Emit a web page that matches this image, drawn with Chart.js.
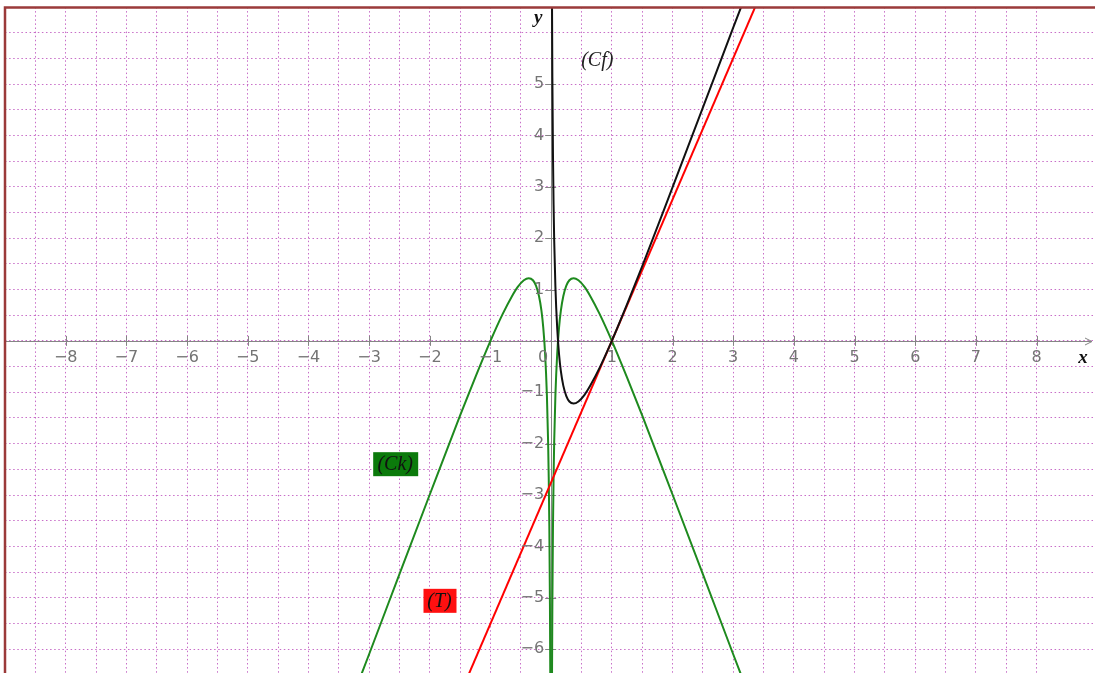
<!DOCTYPE html>
<html>
<head>
<meta charset="utf-8">
<title>(Cf), (Ck), (T)</title>
<script src="https://cdn.jsdelivr.net/npm/chart.js@4.4.1/dist/chart.umd.min.js"></script>
<style>
    html, body { margin: 0; padding: 0; background: #fff; }
    #wrap { width: 1095px; height: 673px; }
</style>
</head>
<body>
<div id="wrap"><canvas id="graph" width="1095" height="673"></canvas></div>
<script>
// (Cf) - black curve, x > 0
const cfX = [0.012, 0.014, 0.02, 0.03, 0.04, 0.05, 0.07, 0.1, 0.13, 0.16, 0.2, 0.25, 0.3, 0.37, 0.45, 0.55, 0.65, 0.8, 1, 1.25, 1.5, 2, 2.5, 3, 3.25, 3.5];
const cfY = [7.27, 6.59, 5.12, 3.62, 2.65, 1.97, 1.06, 0.24, -0.26, -0.59, -0.87, -1.075, -1.18, -1.22, -1.18, -1.05, -0.86, -0.52, 0, 0.71, 1.45, 2.99, 4.54, 6.10, 6.87, 7.65];

// (Ck) - green curve, one branch on each side of the y axis
const ckLeftX = [-3.5, -3.25, -3, -2.5, -2, -1.5, -1.25, -1, -0.8, -0.65, -0.55, -0.45, -0.37, -0.3, -0.25, -0.2, -0.16, -0.13, -0.1, -0.07, -0.05, -0.04, -0.03, -0.02, -0.014, -0.012];
const ckLeftY = [-7.65, -6.87, -6.10, -4.54, -2.99, -1.45, -0.71, 0, 0.52, 0.86, 1.05, 1.18, 1.22, 1.18, 1.075, 0.87, 0.59, 0.26, -0.24, -1.06, -1.97, -2.65, -3.62, -5.12, -6.59, -7.27];
const ckRightX = [0.012, 0.014, 0.02, 0.03, 0.04, 0.05, 0.07, 0.1, 0.13, 0.16, 0.2, 0.25, 0.3, 0.37, 0.45, 0.55, 0.65, 0.8, 1, 1.25, 1.5, 2, 2.5, 3, 3.25, 3.5];
const ckRightY = [-7.27, -6.59, -5.12, -3.62, -2.65, -1.97, -1.06, -0.24, 0.26, 0.59, 0.87, 1.075, 1.18, 1.22, 1.18, 1.05, 0.86, 0.52, 0, -0.71, -1.45, -2.99, -4.54, -6.10, -6.87, -7.65];

// (T) - red tangent line at x = 1
const tX = [-1.5, 3.5];
const tY = [-6.88, 6.88];

// graduations on the axes
const xTickLabels = [-8, -7, -6, -5, -4, -3, -2, -1, 1, 2, 3, 4, 5, 6, 7, 8];
const yTickLabels = [-6, -5, -4, -3, -2, -1, 1, 2, 3, 4, 5];

function toPoints(xs, ys) {
    return xs.map((x, i) => ({ x: x, y: ys[i] }));
}

const gridColor = 'rgba(190, 85, 190, 0.85)';
const axisColor = '#858585';
const labelColor = '#747474';

const axesPlugin = {
    id: 'repereAxes',
    beforeDatasetsDraw(chart) {
        const { ctx, chartArea, scales: { x, y } } = chart;
        const x0 = x.getPixelForValue(0);
        const y0 = y.getPixelForValue(0);
        ctx.save();
        ctx.strokeStyle = axisColor;
        ctx.lineWidth = 1;
        ctx.beginPath();
        // axe des abscisses
        ctx.moveTo(chartArea.left, Math.round(y0) + 0.5);
        ctx.lineTo(chartArea.right - 3, Math.round(y0) + 0.5);
        // flèche
        ctx.moveTo(chartArea.right - 10, Math.round(y0) - 3);
        ctx.lineTo(chartArea.right - 3, Math.round(y0) + 0.5);
        ctx.lineTo(chartArea.right - 10, Math.round(y0) + 4);
        // axe des ordonnées
        ctx.moveTo(Math.round(x0) + 0.5, chartArea.top);
        ctx.lineTo(Math.round(x0) + 0.5, chartArea.bottom);
        xTickLabels.forEach(v => {
            const px = Math.round(x.getPixelForValue(v)) + 0.5;
            ctx.moveTo(px, y0 - 5);
            ctx.lineTo(px, y0 + 5);
        });
        yTickLabels.forEach(v => {
            const py = Math.round(y.getPixelForValue(v)) + 0.5;
            ctx.moveTo(x0 - 6, py);
            ctx.lineTo(x0 + 5, py);
        });
        ctx.stroke();
        ctx.restore();
    },
    afterDatasetsDraw(chart) {
        const { ctx, chartArea, scales: { x, y } } = chart;
        const x0 = x.getPixelForValue(0);
        const y0 = y.getPixelForValue(0);
        ctx.save();

        // graduations
        ctx.fillStyle = labelColor;
        ctx.font = '16px "DejaVu Sans"';
        ctx.textBaseline = 'middle';
        ctx.textAlign = 'center';
        xTickLabels.forEach(v => {
            const txt = v < 0 ? '\u2212' + Math.abs(v) : String(v);
            ctx.fillText(txt, x.getPixelForValue(v), y0 + 17);
        });
        ctx.textAlign = 'right';
        yTickLabels.forEach(v => {
            const txt = v < 0 ? '\u2212' + Math.abs(v) : String(v);
            ctx.fillText(txt, x0 - 7, y.getPixelForValue(v));
        });
        ctx.fillText('0', x0 - 3, y0 + 17);

        // noms des axes
        ctx.fillStyle = '#111';
        ctx.font = 'italic bold 19px "Liberation Serif"';
        ctx.textAlign = 'center';
        ctx.fillText('x', chartArea.right - 12, y0 + 17);
        ctx.fillText('y', x0 - 13, chartArea.top + 11);

        // étiquettes des courbes
        ctx.font = 'italic 20px "Liberation Serif"';
        ctx.fillStyle = '#222';
        ctx.fillText('(Cf)', x.getPixelForValue(0.76), y.getPixelForValue(5.45));

        let cx = x.getPixelForValue(-2.57), cy = y.getPixelForValue(-2.4);
        ctx.fillStyle = '#0b7a0b';
        ctx.fillRect(cx - 22, cy - 12, 45, 24);
        ctx.fillStyle = '#111';
        ctx.fillText('(Ck)', cx, cy + 1);

        cx = x.getPixelForValue(-1.84);
        cy = y.getPixelForValue(-5.06);
        ctx.fillStyle = '#ff1010';
        ctx.fillRect(cx - 16, cy - 12, 33, 24);
        ctx.fillStyle = '#111';
        ctx.fillText('(T)', cx, cy + 1);

        // cadre
        ctx.strokeStyle = '#9b3a3a';
        ctx.lineWidth = 2.5;
        ctx.beginPath();
        ctx.moveTo(chartArea.left, chartArea.bottom);
        ctx.lineTo(chartArea.left, chartArea.top + 0.5);
        ctx.lineTo(chartArea.right, chartArea.top + 0.5);
        ctx.stroke();
        ctx.restore();
    }
};

const keepHalfUnits = s => {
    s.ticks = s.ticks.filter(t => Math.abs(t.value * 2 - Math.round(t.value * 2)) < 1e-6);
};

new Chart(document.getElementById('graph').getContext('2d'), {
    type: 'scatter',
    data: {
        datasets: [
            {
                label: '(Cf)',
                data: toPoints(cfX, cfY),
                showLine: true,
                borderColor: '#111111',
                borderWidth: 2,
                pointRadius: 0,
                cubicInterpolationMode: 'monotone'
            },
            {
                label: '(T)',
                data: toPoints(tX, tY),
                showLine: true,
                borderColor: '#ff0000',
                borderWidth: 2,
                pointRadius: 0
            },
            {
                label: '(Ck)',
                data: toPoints(ckLeftX, ckLeftY),
                showLine: true,
                borderColor: '#1e8a1e',
                borderWidth: 2,
                pointRadius: 0,
                cubicInterpolationMode: 'monotone'
            },
            {
                label: '(Ck) ',
                data: toPoints(ckRightX, ckRightY),
                showLine: true,
                borderColor: '#1e8a1e',
                borderWidth: 2,
                pointRadius: 0,
                cubicInterpolationMode: 'monotone'
            }
        ]
    },
    options: {
        responsive: false,
        animation: false,
        layout: {
            padding: { left: 5, top: 7, right: 0, bottom: 0 }
        },
        plugins: {
            legend: { display: false },
            tooltip: { enabled: false }
        },
        scales: {
            x: {
                type: 'linear',
                min: -9,
                max: 8.962,
                ticks: { display: false, stepSize: 0.5 },
                grid: { color: gridColor, lineWidth: 1, drawTicks: false },
                border: { display: false, dash: [1.5, 2.6] },
                afterBuildTicks: keepHalfUnits,
                afterFit: s => { s.height = 0; }
            },
            y: {
                type: 'linear',
                min: -6.465,
                max: 6.5,
                ticks: { display: false, stepSize: 0.5 },
                grid: { color: gridColor, lineWidth: 1, drawTicks: false },
                border: { display: false, dash: [1.5, 2.6] },
                afterBuildTicks: keepHalfUnits,
                afterFit: s => { s.width = 0; }
            }
        }
    },
    plugins: [axesPlugin]
});
</script>
</body>
</html>
